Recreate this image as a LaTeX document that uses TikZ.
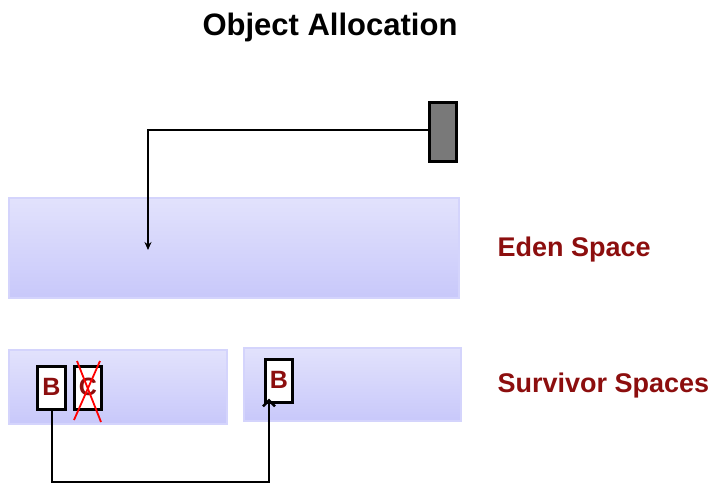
\documentclass[tikz,border=0pt]{standalone}
\usepackage{fontspec}
\setmainfont{Liberation Sans}
\usetikzlibrary{arrows.meta}
\definecolor{spacetop}{RGB}{226,226,252}
\definecolor{spacebot}{RGB}{200,200,250}
\definecolor{spaceedge}{RGB}{212,212,252}
\definecolor{labelred}{RGB}{140,14,14}
\definecolor{boxfoot}{RGB}{150,175,195}
\tikzset{
  space/.style={draw=spaceedge, line width=1.2pt, top color=spacetop, bottom color=spacebot},
  objbox/.style={draw=black, line width=2.4pt, fill=white, inner sep=0pt,
    minimum width=27pt, minimum height=43pt,
    path picture={\fill[boxfoot] ([yshift=-4pt]path picture bounding box.south west)
      rectangle ([yshift=1pt]path picture bounding box.south east);}},
  objtext/.style={font=\bfseries\fontsize{25}{25}\selectfont, text=labelred},
  spacelabel/.style={font=\bfseries\fontsize{27}{27}\selectfont, text=labelred, anchor=west},
  conn/.style={draw=black, line width=2.6pt},
}
\begin{document}
\begin{tikzpicture}[x=1pt,y=-1pt]
\useasboundingbox (0,0) rectangle (717,484);

% title
\node[font=\bfseries\fontsize{31}{31}\selectfont] (title) at (330,27) {Object Allocation};

% heap spaces
\path[space] (9,198) rectangle (459,298);
\path[space] (9,350) rectangle (227,424);
\path[space] (244,348) rectangle (461,421);
\coordinate (eden) at (148,250);

\node[spacelabel] (edenlbl) at (494,250) {Eden Space};
\node[spacelabel] (survlbl) at (494,386) {Survivor Spaces};

% allocating thread
\node[draw=black, line width=2.4pt, fill=gray!95!black, minimum width=27pt, minimum height=59pt,
  inner sep=0pt] (thread) at (443,132) {};
\draw[conn, line width=2pt, -{Stealth[length=8pt,width=7pt]}] (thread.west |- 0,130) -| (eden);

% objects in the survivor spaces
\node[objbox, minimum width=28pt] (b1) at (51.5,388) {};
\node[objtext] at ([yshift=1pt]b1) {B};
\node[objbox] (c1) at (88,388) {};
\node[objtext] at ([yshift=1pt]c1) {C};
\draw[red, line width=1.8pt] (77,361) -- (101,422);
\draw[red, line width=1.8pt] (100,361) -- (74,420);

\node[objbox] (b2) at (279,381) {};
\node[objtext] at ([yshift=1pt]b2) {B};

% copy during minor collection
\coordinate (low) at (52,482);
\draw[conn, -{Straight Barb[length=6pt,width=12pt,line width=2.4pt]}]
  (b1.south -| 52,0) -- (low) -| ([xshift=-10pt,yshift=5pt]b2.south);
\end{tikzpicture}
\end{document}
